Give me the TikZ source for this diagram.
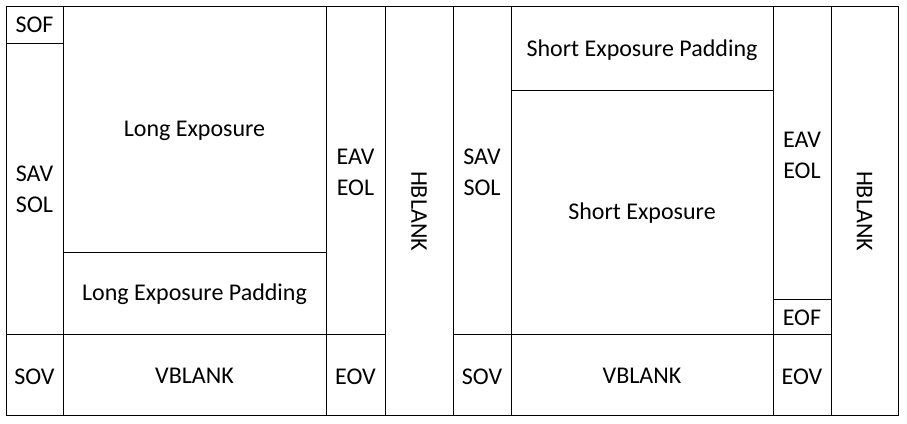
\documentclass[tikz,border=0pt]{standalone}
\usepackage{fontspec}
\setmainfont{Carlito}
\usepackage{tikz}

\begin{document}
\begin{tikzpicture}[x=1pt,y=-1pt,
        cell/.style={draw=black,line width=0.8pt},
        lbl/.style={align=center,inner sep=0pt,font=\fontsize{24}{29}\selectfont}]
        \useasboundingbox (0,0) rectangle (907,423);
        % long exposure frame
        \draw [cell] (6,6) rectangle (63,43);
        \draw [cell] (6,43) rectangle (63,334);
        \draw [cell] (63,6) rectangle (326,252);
        \draw [cell] (63,252) rectangle (326,334);
        \draw [cell] (326,6) rectangle (385,334);
        \draw [cell] (6,334) rectangle (63,415);
        \draw [cell] (63,334) rectangle (326,415);
        \draw [cell] (326,334) rectangle (385,415);
        \draw [cell] (385,6) rectangle (453,415);
        % short exposure frame
        \draw [cell] (453,6) rectangle (511,334);
        \draw [cell] (511,6) rectangle (773,90);
        \draw [cell] (511,90) rectangle (773,334);
        \draw [cell] (773,6) rectangle (831,299);
        \draw [cell] (773,299) rectangle (831,334);
        \draw [cell] (453,334) rectangle (511,415);
        \draw [cell] (511,334) rectangle (773,415);
        \draw [cell] (773,334) rectangle (831,415);
        \draw [cell] (831,6) rectangle (898,415);
        % labels
        \node [lbl] (sof) at (34.5,25) {SOF};
        \node [lbl] (sav1) at (34.5,189) {SAV\\[2pt]SOL};
        \node [lbl] (long) at (194.5,131) {Long Exposure};
        \node [lbl] (longpad) at (194.5,294) {Long Exposure Padding};
        \node [lbl] (eav1) at (355.5,172) {EAV\\[2pt]EOL};
        \node [lbl,rotate=-90] (hblank1) at (419,211) {HBLANK};
        \node [lbl] (sov1) at (34.5,377) {SOV};
        \node [lbl] (vblank1) at (194.5,376) {VBLANK};
        \node [lbl] (eov1) at (355.5,377) {EOV};
        \node [lbl] (sav2) at (482,172) {SAV\\[2pt]SOL};
        \node [lbl] (shortpad) at (642,50) {Short Exposure Padding};
        \node [lbl] (short) at (642,213) {Short Exposure};
        \node [lbl] (eav2) at (802,155) {EAV\\[2pt]EOL};
        \node [lbl] (eof) at (802,318) {EOF};
        \node [lbl,rotate=-90] (hblank2) at (864.5,211) {HBLANK};
        \node [lbl] (sov2) at (482,377) {SOV};
        \node [lbl] (vblank2) at (642,376) {VBLANK};
        \node [lbl] (eov2) at (802,377) {EOV};
    \end{tikzpicture}
\end{document}
